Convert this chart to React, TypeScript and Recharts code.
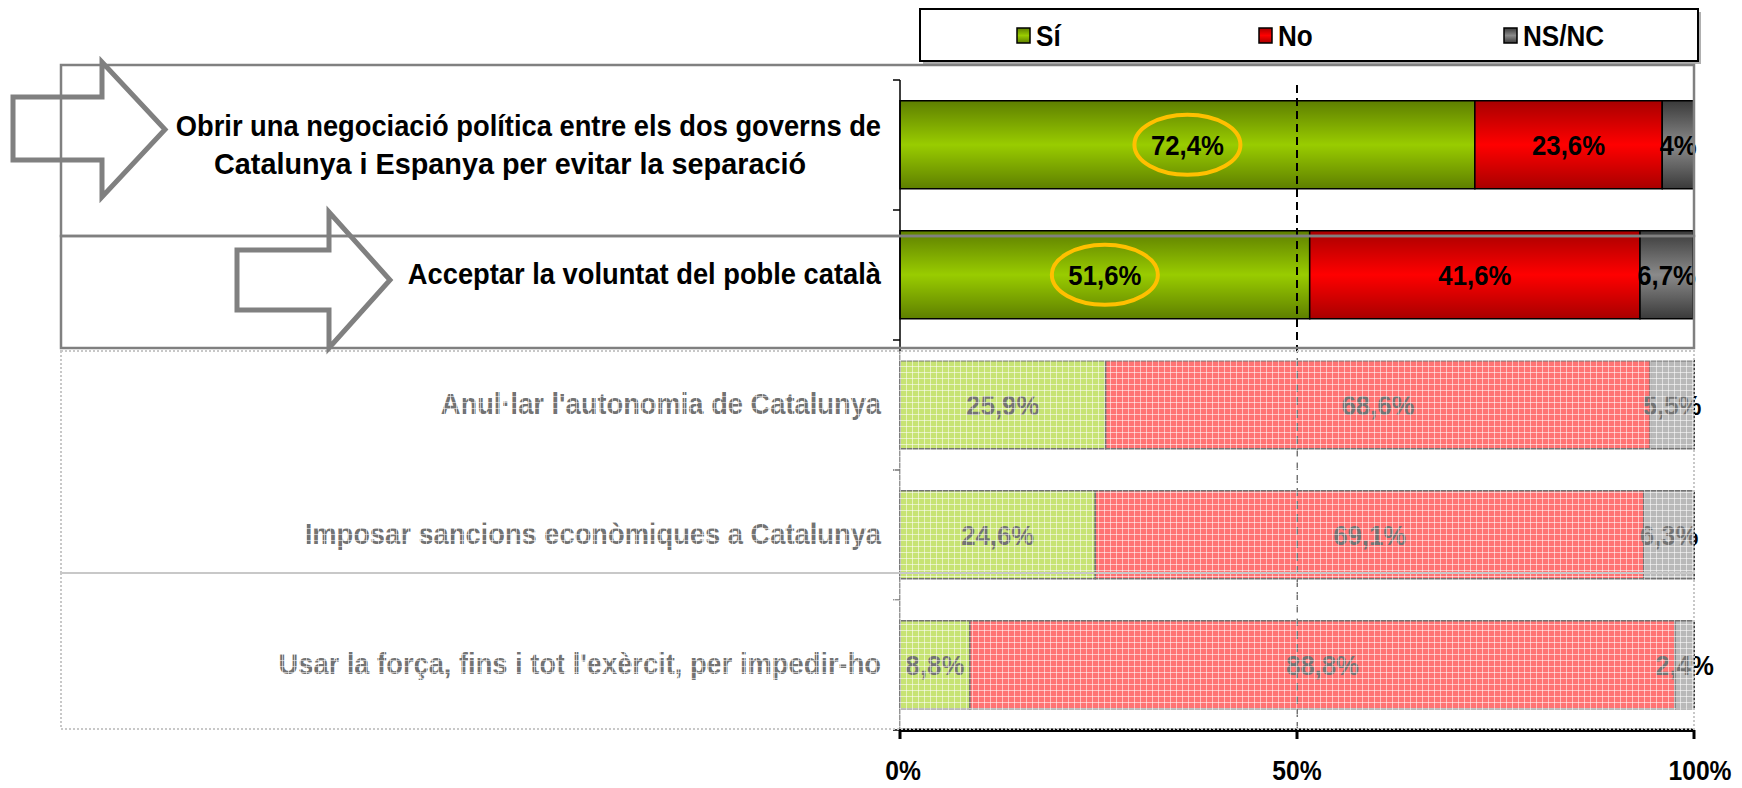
import React from 'react'
import { BarChart, Bar, XAxis, YAxis, Legend, ReferenceLine, LabelList, Cell } from 'recharts'

const categories = [
  'Obrir una negociació política entre els dos governs de\nCatalunya i Espanya per evitar la separació',
  'Acceptar la voluntat del poble català',
  "Anul·lar l'autonomia de Catalunya",
  'Imposar sancions econòmiques a Catalunya',
  "Usar la força, fins i tot l'exèrcit, per impedir-ho",
]
const siValues = [72.4, 51.6, 25.9, 24.6, 8.8]
const noValues = [23.6, 41.6, 68.6, 69.1, 88.8]
const nsValues = [4, 6.7, 5.5, 6.3, 2.4]
const seriesNames = ['Sí', 'No', 'NS/NC']
const xTicks = [0, 50, 100]
// rows drawn at full strength (the rest are washed out) and rows with a ring on Sí
const mainRows = [0, 1]

const data = categories.map((cat, i) => ({
  cat,
  si: siValues[i],
  no: noValues[i],
  ns: nsValues[i],
}))

const FONT = '"Liberation Sans", Arial, Helvetica, sans-serif'
const GRAD = ['url(#gSi)', 'url(#gNo)', 'url(#gNs)']
const FLAT = ['#99CC00', '#FF0000', '#808080']
const LEGEND_X = [98, 340, 585]

const fmt = (v: number) => `${String(v).replace('.', ',')}%`

function Squeeze({ x, y, size, sx, anchor = 'middle', fill = '#000', children }: any) {
  return (
    <text
      transform={`translate(${x},${y}) scale(${sx},1)`}
      textAnchor={anchor}
      dy="0.36em"
      fontFamily={FONT}
      fontWeight="bold"
      fontSize={size}
      fill={fill}
    >
      {children}
    </text>
  )
}

function CategoryTick({ x, y, payload, index }: any) {
  const lines = String(payload.value).split('\n')
  const half = 65
  return (
    <g>
      <line x1={x - 7} x2={x} y1={y - half} y2={y - half} stroke="#000" strokeWidth={1.5} />
      {index === categories.length - 1 && (
        <line x1={x - 7} x2={x} y1={y + half} y2={y + half} stroke="#000" strokeWidth={1.5} />
      )}
      {lines.length === 1 ? (
        <Squeeze x={x - 19} y={y - 2} size={30} sx={0.91} anchor="end">
          {lines[0]}
        </Squeeze>
      ) : (
        <>
          <Squeeze x={x - 19} y={y - 20} size={30} sx={0.91} anchor="end">
            {lines[0]}
          </Squeeze>
          <Squeeze x={x - 390} y={y + 18} size={30} sx={0.96} anchor="middle">
            {lines[1]}
          </Squeeze>
        </>
      )}
    </g>
  )
}

function PctTick({ x, y, payload }: any) {
  const nudge = payload.value === 100 ? 6 : payload.value === 0 ? 3 : 0
  return (
    <Squeeze x={x + nudge} y={y + 29} size={28} sx={0.88}>
      {`${payload.value}%`}
    </Squeeze>
  )
}

function ValueLabel({ x, y, width, height, value, index, ring }: any) {
  const cx = Number(x) + Number(width) / 2
  const cy = Number(y) + Number(height) / 2
  return (
    <g>
      {ring && mainRows.includes(index) && (
        <ellipse cx={cx} cy={cy} rx={53} ry={30} fill="none" stroke="#FFC000" strokeWidth={4} />
      )}
      <Squeeze x={cx} y={cy} size={28} sx={0.92}>
        {fmt(value)}
      </Squeeze>
    </g>
  )
}

function LegendBox({ payload }: any) {
  const list = payload || []
  const items = seriesNames.map((n) => list.find((p: any) => p.value === n) || { value: n })
  return (
    <svg width={786} height={60} style={{ display: 'block', overflow: 'visible' }}>
      <rect x={4} y={4} width={778} height={52} fill="#b0b0b0" />
      <rect x={1} y={1} width={778} height={52} fill="#fff" stroke="#000" strokeWidth={2} />
      {items.map((p: any, i: number) => (
        <g key={p.value}>
          <rect x={LEGEND_X[i]} y={20} width={13} height={15} fill={GRAD[i]} stroke="#000" strokeWidth={1.5} />
          <Squeeze x={LEGEND_X[i] + 19} y={28} size={29} sx={0.9} anchor="start">
            {p.value}
          </Squeeze>
        </g>
      ))}
    </svg>
  )
}

function Gradient({ id, edge, mid }: { id: string; edge: string; mid: string }) {
  return (
    <linearGradient id={id} x1="0" y1="0" x2="0" y2="1">
      <stop offset="0%" stopColor={edge} />
      <stop offset="50%" stopColor={mid} />
      <stop offset="100%" stopColor={edge} />
    </linearGradient>
  )
}

export default function App() {
  const series = [
    { key: 'si', name: seriesNames[0] },
    { key: 'no', name: seriesNames[1] },
    { key: 'ns', name: seriesNames[2] },
  ]
  return (
    <div style={{ position: 'absolute', left: 0, top: 0, width: 1742, height: 788, background: '#fff' }}>
      <svg width={0} height={0} style={{ position: 'absolute' }}>
        <defs>
          <Gradient id="gSi" edge="#5E7F00" mid="#99CC00" />
          <Gradient id="gNo" edge="#A80000" mid="#FF0000" />
          <Gradient id="gNs" edge="#3A3A3A" mid="#8A8A8A" />
          <pattern id="fade" width={6} height={6} patternUnits="userSpaceOnUse">
            <rect width={6} height={6} fill="#fff" fillOpacity={0.45} />
            <path d="M0 0.5H6M0.5 0V6" stroke="#fff" strokeOpacity={0.55} strokeWidth={1} />
          </pattern>
        </defs>
      </svg>

      <BarChart
        width={1742}
        height={788}
        data={data}
        layout="vertical"
        barCategoryGap="16%"
        margin={{ top: 80, right: 48, bottom: 0, left: 0 }}
      >
        <XAxis
          type="number"
          domain={[0, 100]}
          ticks={xTicks}
          interval={0}
          height={58}
          tickSize={9}
          axisLine={{ stroke: '#000', strokeWidth: 4 }}
          tickLine={{ stroke: '#000', strokeWidth: 3 }}
          tick={<PctTick />}
        />
        <XAxis
          xAxisId="top"
          orientation="top"
          type="number"
          domain={[0, 100]}
          height={0}
          tick={false}
          tickLine={false}
          axisLine={{ stroke: '#000', strokeWidth: 3 }}
        />
        <YAxis
          type="category"
          dataKey="cat"
          width={900}
          interval={0}
          tickSize={0}
          tickMargin={0}
          tickLine={false}
          axisLine={{ stroke: '#000', strokeWidth: 1.5 }}
          tick={<CategoryTick />}
        />
        <Legend
          layout="horizontal"
          verticalAlign="middle"
          align="center"
          wrapperStyle={{ top: 8, left: 919, width: 786, height: 60, margin: 0 }}
          content={<LegendBox />}
        />
        {series.map((s, si) => (
          <Bar
            key={s.key}
            dataKey={s.key}
            name={s.name}
            stackId="a"
            fill={GRAD[si]}
            stroke="#000"
            strokeWidth={1.5}
            isAnimationActive={false}
          >
            {data.map((_, i) => (
              <Cell key={i} fill={mainRows.includes(i) ? GRAD[si] : FLAT[si]} />
            ))}
            <LabelList dataKey={s.key} content={<ValueLabel ring={s.key === 'si'} />} />
          </Bar>
        ))}
        <ReferenceLine x={50} stroke="#000" strokeWidth={2} strokeDasharray="8 5" />
      </BarChart>

      <svg
        width={1742}
        height={788}
        style={{ position: 'absolute', left: 0, top: 0, pointerEvents: 'none' }}
      >
        <rect x={61} y={351} width={1633} height={378} fill="url(#fade)" />
        <rect x={61} y={351} width={1633} height={222} fill="none" stroke="#c8c8c8" strokeWidth={2} strokeDasharray="2 2" />
        <rect x={61} y={573} width={1633} height={156} fill="none" stroke="#c8c8c8" strokeWidth={2} strokeDasharray="2 2" />
        <rect x={61} y={65} width={1633} height={171} fill="none" stroke="#808080" strokeWidth={2.5} />
        <rect x={61} y={236} width={1633} height={112} fill="none" stroke="#808080" strokeWidth={2.5} />
        <polygon
          points="13,97 102,97 102,62 165,129.5 102,197 102,160 13,160"
          fill="none"
          stroke="#808080"
          strokeWidth={5}
        />
        <polygon
          points="237,250 329,250 329,212 390,280 329,348 329,310 237,310"
          fill="none"
          stroke="#808080"
          strokeWidth={5}
        />
      </svg>
    </div>
  )
}
